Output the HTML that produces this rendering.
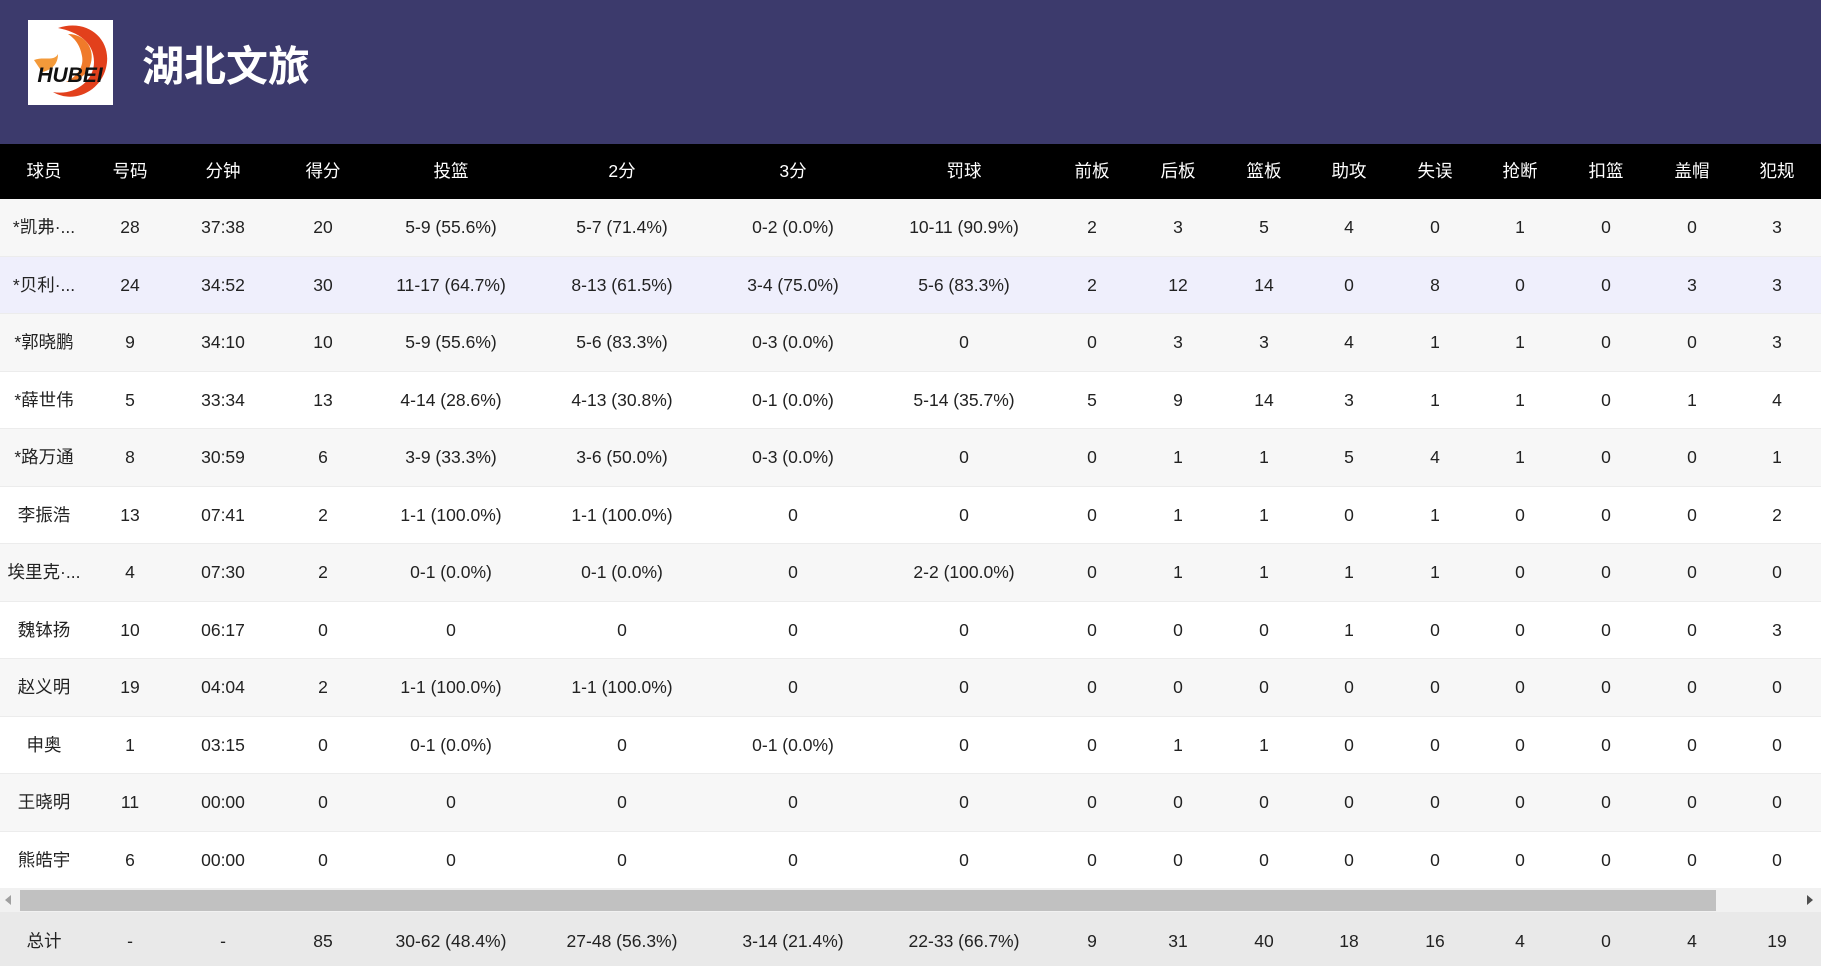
<!DOCTYPE html>
<html><head><meta charset="utf-8"><style>
*{margin:0;padding:0;box-sizing:border-box}
body{width:1821px;height:966px;overflow:hidden;background:#fff;font-family:"Liberation Sans","Noto Sans CJK SC",sans-serif;position:relative}
.top{position:absolute;left:0;top:0;width:1821px;height:144px;background:#3c3a6c}
.logo{position:absolute;left:28px;top:20px;width:85px;height:85px;background:#fff;overflow:hidden}
.title{position:absolute;left:142px;top:38px;color:#fff;font-size:42px;font-weight:bold;font-family:"Noto Sans CJK SC",sans-serif;line-height:52px}
.row{position:absolute;left:0;width:1821px;height:57.5px;border-bottom:1px solid #ececec}
.row span{position:absolute;top:0;line-height:57px;transform:translateX(-50%);font-size:17.5px;color:#222;white-space:nowrap}
.hd{background:#000;top:144px;height:55px;border:none}
.hd span{color:#fff;line-height:55px;font-size:17.5px}
.g{background:#f7f7f7}.w{background:#fff}.l{background:#efeffc}
.c1{left:44px}.c2{left:130px}.c3{left:223px}.c4{left:323px}.c5{left:451px}.c6{left:622px}.c7{left:793px}.c8{left:964px}.c9{left:1092px}.c10{left:1178px}.c11{left:1264px}.c12{left:1349px}.c13{left:1435px}.c14{left:1520px}.c15{left:1606px}.c16{left:1692px}.c17{left:1777px}
.sb{position:absolute;left:0;top:888px;width:1821px;height:24px;background:#f1f1f1}
.thumb{position:absolute;left:20px;top:2px;width:1696px;height:21px;background:#c1c1c1}
.tot{position:absolute;left:0;top:912px;width:1821px;height:54px;background:#e9e9e9}
.tot span{position:absolute;top:0;line-height:58px;transform:translateX(-50%);font-size:17.5px;color:#222;white-space:nowrap}
</style></head><body>
<div class="top">
<div class="logo"><svg width="85" height="85" viewBox="0 0 85 85">
<path d="M30 8 C60 -2 85 20 78 48 C72 72 45 84 25 72 C45 76 66 62 66 42 C66 22 50 12 30 8Z" fill="#e2401c"/>
<path d="M40 14 C58 14 68 30 62 46 C58 56 48 62 38 62 C50 56 56 46 54 36 C52 24 46 18 40 14Z" fill="#f07a2a"/>
<path d="M6 40 C16 36 26 42 30 34 C30 44 24 50 14 52Z" fill="#f39a3a"/>
<text x="42" y="62" text-anchor="middle" font-family="Liberation Sans" font-weight="bold" font-style="italic" font-size="21" fill="#111">HUBEI</text>
</svg></div>
<div class="title">湖北文旅</div>
</div>
<div class="row hd"><span class="c1">球员</span><span class="c2">号码</span><span class="c3">分钟</span><span class="c4">得分</span><span class="c5">投篮</span><span class="c6">2分</span><span class="c7">3分</span><span class="c8">罚球</span><span class="c9">前板</span><span class="c10">后板</span><span class="c11">篮板</span><span class="c12">助攻</span><span class="c13">失误</span><span class="c14">抢断</span><span class="c15">扣篮</span><span class="c16">盖帽</span><span class="c17">犯规</span></div>
<div class="row g" style="top:199px"><span class="c1">*凯弗·...</span><span class="c2">28</span><span class="c3">37:38</span><span class="c4">20</span><span class="c5">5-9 (55.6%)</span><span class="c6">5-7 (71.4%)</span><span class="c7">0-2 (0.0%)</span><span class="c8">10-11 (90.9%)</span><span class="c9">2</span><span class="c10">3</span><span class="c11">5</span><span class="c12">4</span><span class="c13">0</span><span class="c14">1</span><span class="c15">0</span><span class="c16">0</span><span class="c17">3</span></div>
<div class="row l" style="top:256.5px"><span class="c1">*贝利·...</span><span class="c2">24</span><span class="c3">34:52</span><span class="c4">30</span><span class="c5">11-17 (64.7%)</span><span class="c6">8-13 (61.5%)</span><span class="c7">3-4 (75.0%)</span><span class="c8">5-6 (83.3%)</span><span class="c9">2</span><span class="c10">12</span><span class="c11">14</span><span class="c12">0</span><span class="c13">8</span><span class="c14">0</span><span class="c15">0</span><span class="c16">3</span><span class="c17">3</span></div>
<div class="row g" style="top:314px"><span class="c1">*郭晓鹏</span><span class="c2">9</span><span class="c3">34:10</span><span class="c4">10</span><span class="c5">5-9 (55.6%)</span><span class="c6">5-6 (83.3%)</span><span class="c7">0-3 (0.0%)</span><span class="c8">0</span><span class="c9">0</span><span class="c10">3</span><span class="c11">3</span><span class="c12">4</span><span class="c13">1</span><span class="c14">1</span><span class="c15">0</span><span class="c16">0</span><span class="c17">3</span></div>
<div class="row w" style="top:371.5px"><span class="c1">*薛世伟</span><span class="c2">5</span><span class="c3">33:34</span><span class="c4">13</span><span class="c5">4-14 (28.6%)</span><span class="c6">4-13 (30.8%)</span><span class="c7">0-1 (0.0%)</span><span class="c8">5-14 (35.7%)</span><span class="c9">5</span><span class="c10">9</span><span class="c11">14</span><span class="c12">3</span><span class="c13">1</span><span class="c14">1</span><span class="c15">0</span><span class="c16">1</span><span class="c17">4</span></div>
<div class="row g" style="top:429px"><span class="c1">*路万通</span><span class="c2">8</span><span class="c3">30:59</span><span class="c4">6</span><span class="c5">3-9 (33.3%)</span><span class="c6">3-6 (50.0%)</span><span class="c7">0-3 (0.0%)</span><span class="c8">0</span><span class="c9">0</span><span class="c10">1</span><span class="c11">1</span><span class="c12">5</span><span class="c13">4</span><span class="c14">1</span><span class="c15">0</span><span class="c16">0</span><span class="c17">1</span></div>
<div class="row w" style="top:486.5px"><span class="c1">李振浩</span><span class="c2">13</span><span class="c3">07:41</span><span class="c4">2</span><span class="c5">1-1 (100.0%)</span><span class="c6">1-1 (100.0%)</span><span class="c7">0</span><span class="c8">0</span><span class="c9">0</span><span class="c10">1</span><span class="c11">1</span><span class="c12">0</span><span class="c13">1</span><span class="c14">0</span><span class="c15">0</span><span class="c16">0</span><span class="c17">2</span></div>
<div class="row g" style="top:544px"><span class="c1">埃里克·...</span><span class="c2">4</span><span class="c3">07:30</span><span class="c4">2</span><span class="c5">0-1 (0.0%)</span><span class="c6">0-1 (0.0%)</span><span class="c7">0</span><span class="c8">2-2 (100.0%)</span><span class="c9">0</span><span class="c10">1</span><span class="c11">1</span><span class="c12">1</span><span class="c13">1</span><span class="c14">0</span><span class="c15">0</span><span class="c16">0</span><span class="c17">0</span></div>
<div class="row w" style="top:601.5px"><span class="c1">魏钵扬</span><span class="c2">10</span><span class="c3">06:17</span><span class="c4">0</span><span class="c5">0</span><span class="c6">0</span><span class="c7">0</span><span class="c8">0</span><span class="c9">0</span><span class="c10">0</span><span class="c11">0</span><span class="c12">1</span><span class="c13">0</span><span class="c14">0</span><span class="c15">0</span><span class="c16">0</span><span class="c17">3</span></div>
<div class="row g" style="top:659px"><span class="c1">赵义明</span><span class="c2">19</span><span class="c3">04:04</span><span class="c4">2</span><span class="c5">1-1 (100.0%)</span><span class="c6">1-1 (100.0%)</span><span class="c7">0</span><span class="c8">0</span><span class="c9">0</span><span class="c10">0</span><span class="c11">0</span><span class="c12">0</span><span class="c13">0</span><span class="c14">0</span><span class="c15">0</span><span class="c16">0</span><span class="c17">0</span></div>
<div class="row w" style="top:716.5px"><span class="c1">申奥</span><span class="c2">1</span><span class="c3">03:15</span><span class="c4">0</span><span class="c5">0-1 (0.0%)</span><span class="c6">0</span><span class="c7">0-1 (0.0%)</span><span class="c8">0</span><span class="c9">0</span><span class="c10">1</span><span class="c11">1</span><span class="c12">0</span><span class="c13">0</span><span class="c14">0</span><span class="c15">0</span><span class="c16">0</span><span class="c17">0</span></div>
<div class="row g" style="top:774px"><span class="c1">王晓明</span><span class="c2">11</span><span class="c3">00:00</span><span class="c4">0</span><span class="c5">0</span><span class="c6">0</span><span class="c7">0</span><span class="c8">0</span><span class="c9">0</span><span class="c10">0</span><span class="c11">0</span><span class="c12">0</span><span class="c13">0</span><span class="c14">0</span><span class="c15">0</span><span class="c16">0</span><span class="c17">0</span></div>
<div class="row w" style="top:831.5px"><span class="c1">熊皓宇</span><span class="c2">6</span><span class="c3">00:00</span><span class="c4">0</span><span class="c5">0</span><span class="c6">0</span><span class="c7">0</span><span class="c8">0</span><span class="c9">0</span><span class="c10">0</span><span class="c11">0</span><span class="c12">0</span><span class="c13">0</span><span class="c14">0</span><span class="c15">0</span><span class="c16">0</span><span class="c17">0</span></div>
<div class="sb"><div class="thumb"></div>
<svg style="position:absolute;left:4px;top:7px" width="8" height="10"><path d="M7 0 L1 5 L7 10Z" fill="#a0a0a0"/></svg>
<svg style="position:absolute;left:1806px;top:7px" width="8" height="10"><path d="M1 0 L7 5 L1 10Z" fill="#505050"/></svg>
</div>
<div class="tot"><span class="c1">总计</span><span class="c2">-</span><span class="c3">-</span><span class="c4">85</span><span class="c5">30-62 (48.4%)</span><span class="c6">27-48 (56.3%)</span><span class="c7">3-14 (21.4%)</span><span class="c8">22-33 (66.7%)</span><span class="c9">9</span><span class="c10">31</span><span class="c11">40</span><span class="c12">18</span><span class="c13">16</span><span class="c14">4</span><span class="c15">0</span><span class="c16">4</span><span class="c17">19</span></div>
</body></html>
